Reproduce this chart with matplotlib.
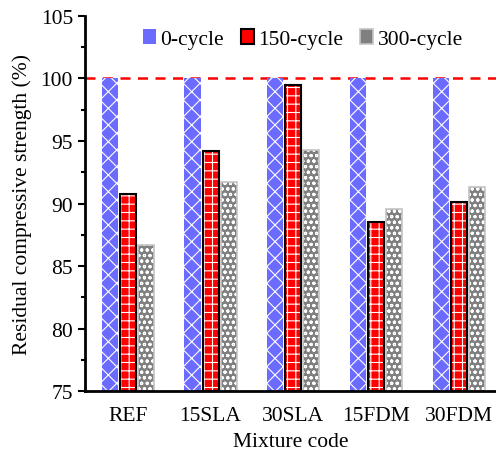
import numpy as np
import matplotlib.pyplot as plt

plt.rcParams['font.family'] = ['Liberation Serif', 'DejaVu Serif']
plt.rcParams['hatch.linewidth'] = 0.8

mixes = ['REF', '15SLA', '30SLA', '15FDM', '30FDM']
cycle_labels = ['0-cycle', '150-cycle', '300-cycle']
res_0 = [100, 100, 100, 100, 100]
res_150 = [90.8, 94.2, 99.5, 88.5, 90.1]
res_300 = [86.7, 91.7, 94.3, 89.6, 91.3]

fills = ['#6b6bff', '#ff0000', '#808080']
edges = ['#9c9cff', 'black', '#c4c4c4']
hatches = ['xx', '++', 'ooo']
widths = [0, 1.5, 1.2]

fig = plt.figure(figsize=(4.96, 4.56), dpi=100)
ax = fig.add_axes([0.171, 0.140, 0.829, 0.823])

x = np.arange(len(mixes))
w = 0.195
step = 0.218
for i, vals in enumerate([res_0, res_150, res_300]):
    pos = x + (i - 1) * step
    # fill with white hatch first, then the outline on top
    ax.bar(pos, np.array(vals) - 75, w, bottom=75, color=fills[i],
           edgecolor='white', hatch=hatches[i], linewidth=0)
    ax.bar(pos, np.array(vals) - 75, w, bottom=75, facecolor='none',
           edgecolor=edges[i], linewidth=widths[i])
    # proxy for legend
    ax.bar([np.nan], [0], w, color=fills[i], edgecolor=edges[i],
           linewidth=widths[i], label=cycle_labels[i])

ax.axhline(100, color='red', ls=(0, (4, 3)), lw=1.8, zorder=0)

ax.set_xlim(-0.52, 4.45)
ax.set_ylim(75, 105)
ax.set_yticks(np.arange(75, 106, 5))
ax.set_yticks(np.arange(77.5, 105, 5), minor=True)
ax.set_xticks(x)
ax.set_xticklabels(mixes)
ax.tick_params(axis='x', length=0, labelsize=15.5, pad=11)
ax.tick_params(axis='y', which='major', length=5, width=1.5, labelsize=15.5, direction='out')
ax.tick_params(axis='y', which='minor', length=3, width=1.5, direction='out')

for s in ['top', 'right']:
    ax.spines[s].set_visible(False)
for s in ['left', 'bottom']:
    ax.spines[s].set_linewidth(2)

ax.set_ylabel('Residual compressive strength (%)', fontsize=15.5, labelpad=6)
ax.set_xlabel('Mixture code', fontsize=15.5, labelpad=5)

ax.legend(loc='upper center', bbox_to_anchor=(0.53, 1.0), ncol=3, frameon=False,
          fontsize=15.5, handlelength=0.6, handleheight=0.7, handletextpad=0.2,
          columnspacing=0.8, borderaxespad=0.2)

fig.savefig('out.png', dpi=100)
